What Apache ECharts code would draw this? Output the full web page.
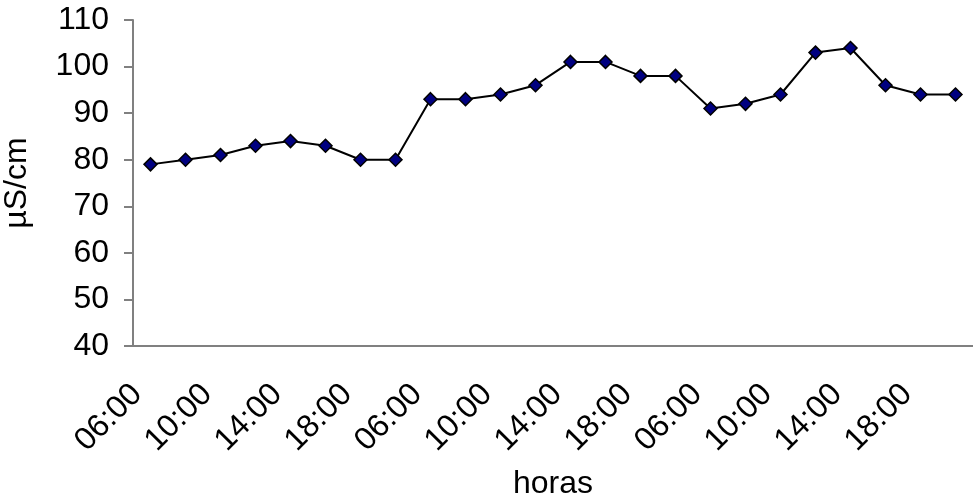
<!DOCTYPE html>
<html>
<head>
<meta charset="utf-8">
<script src="https://cdn.jsdelivr.net/npm/echarts@6/dist/echarts.min.js"></script>
<style>
  html, body { margin: 0; padding: 0; background: #fff; }
  #chart { width: 973px; height: 502px; }
</style>
</head>
<body>
<div id="chart"></div>
<script>
// horas de medição (3 dias, de 2 em 2 horas)
const hours = [
  '06:00', '08:00', '10:00', '12:00', '14:00', '16:00', '18:00', '20:00',
  '06:00', '08:00', '10:00', '12:00', '14:00', '16:00', '18:00', '20:00',
  '06:00', '08:00', '10:00', '12:00', '14:00', '16:00', '18:00', '20:00'
];
// condutividade µS/cm
const conductivity = [
  79, 80, 81, 83, 84, 83, 80, 80,
  93, 93, 94, 96, 101, 101, 98, 98,
  91, 92, 94, 103, 104, 96, 94, 94
];
const yMin = 40;
const yMax = 110;
const yStep = 10;

const FONT = '"Liberation Sans", Arial, sans-serif';
const FS = 32;

const chart = echarts.init(document.getElementById('chart'));

const option = {
  animation: false,
  backgroundColor: '#fff',
  grid: { left: 133, right: 0, top: 20, bottom: 156, containLabel: false, outerBoundsMode: 'none' },
  xAxis: {
    type: 'category',
    data: hours,
    boundaryGap: true,
    name: 'horas',
    nameLocation: 'middle',
    nameGap: 122,
    nameTextStyle: { fontSize: FS, color: '#000', fontFamily: FONT },
    axisLine: { lineStyle: { color: '#808080', width: 2 } },
    axisTick: { interval: 0, length: 9, lineStyle: { color: '#808080', width: 2 } },
    axisLabel: {
      interval: 1,
      rotate: 45,
      margin: 30,
      padding: [0, 19, 0, 0],
      fontSize: FS,
      color: '#000',
      fontFamily: FONT
    },
    splitLine: { show: false }
  },
  yAxis: {
    type: 'value',
    min: yMin,
    max: yMax,
    interval: yStep,
    name: 'µS/cm',
    nameLocation: 'middle',
    nameGap: 100,
    nameTextStyle: { fontSize: FS, color: '#000', fontFamily: FONT },
    axisLine: { show: true, lineStyle: { color: '#808080', width: 2 } },
    axisTick: { show: true, length: 9, lineStyle: { color: '#808080', width: 2 } },
    axisLabel: { margin: 24, fontSize: FS, color: '#000', fontFamily: FONT },
    splitLine: { show: false }
  },
  series: [
    {
      type: 'line',
      data: conductivity,
      symbol: 'diamond',
      symbolSize: 13,
      lineStyle: { color: '#000', width: 2 },
      itemStyle: { color: '#000080', borderColor: '#000', borderWidth: 1.5 }
    }
  ]
};

chart.setOption(option);
</script>
</body>
</html>
